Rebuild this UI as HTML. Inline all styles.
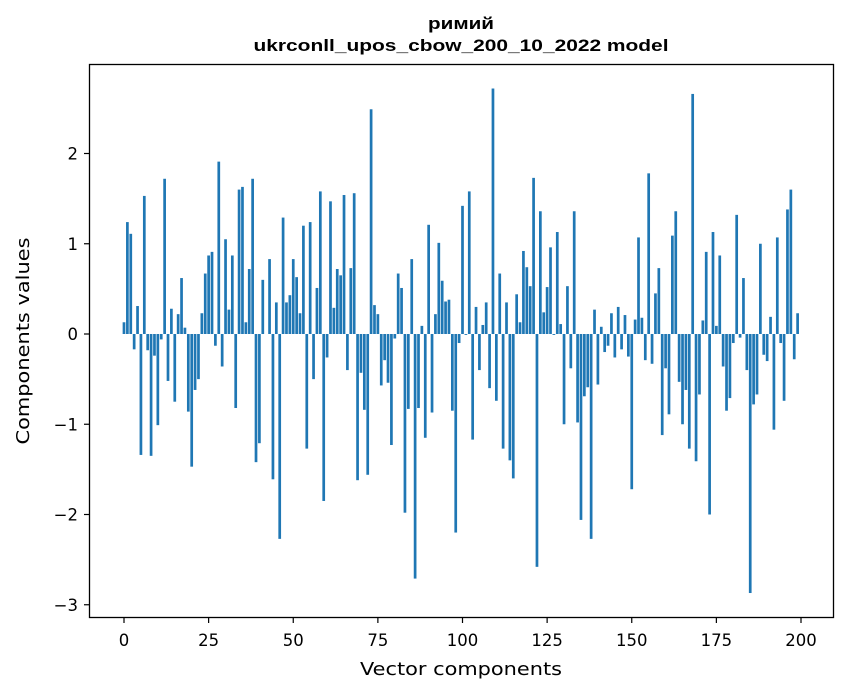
<!DOCTYPE html>
<html><head><meta charset="utf-8"><style>
html,body{margin:0;padding:0;background:#fff;}
svg{display:block;font-family:"DejaVu Sans","Liberation Sans",sans-serif;}
</style></head><body>
<svg id="chart" width="847" height="696" viewBox="0 0 847 696" xmlns="http://www.w3.org/2000/svg">
<rect width="847" height="696" fill="#fff"/>
<text x="461" y="29" text-anchor="middle" font-family="Liberation Sans, sans-serif" font-weight="bold" font-size="17" textLength="66" lengthAdjust="spacingAndGlyphs" fill="#000">римий</text>
<text x="461" y="51" text-anchor="middle" font-family="Liberation Sans, sans-serif" font-weight="bold" font-size="17" textLength="415" lengthAdjust="spacingAndGlyphs" fill="#000">ukrconll_upos_cbow_200_10_2022 model</text>
<g id="bars"></g>
<g id="xticks"></g>
<g id="yticks"></g>
<rect x="89.5" y="64.5" width="744" height="553" fill="none" stroke="#000" stroke-width="1.3"/>
<text x="461" y="675" text-anchor="middle" font-size="18" textLength="202" lengthAdjust="spacingAndGlyphs" fill="#000">Vector components</text>
<text transform="translate(29,341) rotate(-90)" text-anchor="middle" font-size="18" textLength="207" lengthAdjust="spacingAndGlyphs" fill="#000">Components values</text>
</svg>
<script>
const values = [0.13,1.24,1.11,-0.17,0.31,-1.34,1.53,-0.18,-1.35,-0.24,-1.01,-0.06,1.72,-0.52,0.28,-0.75,0.22,0.62,0.07,-0.86,
-1.47,-0.62,-0.50,0.23,0.67,0.87,0.91,-0.13,1.91,-0.36,1.05,0.27,0.87,-0.82,1.60,1.63,0.13,0.72,1.72,-1.42,
-1.21,0.60,0.0,0.83,-1.61,0.35,-2.27,1.29,0.35,0.43,0.83,0.63,0.23,1.20,-1.27,1.24,-0.50,0.51,1.58,-1.85,
-0.26,1.47,0.29,0.72,0.65,1.54,-0.40,0.73,1.56,-1.62,-0.43,-0.84,-1.56,2.49,0.32,0.22,-0.57,-0.29,-0.54,-1.23,
-0.05,0.67,0.51,-1.98,-0.83,0.83,-2.71,-0.82,0.09,-1.15,1.21,-0.87,0.22,1.01,0.59,0.36,0.38,-0.85,-2.20,-0.10,
1.42,-0.01,1.58,-1.17,0.30,-0.40,0.10,0.35,-0.60,2.72,-0.74,0.67,-1.27,0.35,-1.40,-1.60,0.44,0.13,0.92,0.74,
0.53,1.73,-2.58,1.36,0.24,0.52,0.96,-0.01,1.13,0.11,-1.00,0.53,-0.38,1.36,-0.98,-2.06,-0.69,-0.59,-2.27,0.27,
-0.56,0.08,-0.20,-0.13,0.23,-0.26,0.30,-0.17,0.21,-0.25,-1.72,0.16,1.07,0.18,-0.29,1.78,-0.33,0.45,0.73,-1.12,
-0.38,-0.89,1.09,1.36,-0.53,-1.00,-0.62,-1.27,2.66,-1.41,-0.67,0.15,0.91,-2.00,1.13,0.09,0.87,-0.36,-0.85,-0.71,
-0.10,1.32,-0.04,0.62,-0.40,-2.87,-0.78,-0.67,1.00,-0.23,-0.30,0.19,-1.06,1.07,-0.10,-0.74,1.38,1.60,-0.28,0.23];
const xTicks = [0,25,50,75,100,125,150,175,200];
const yTicks = [-3,-2,-1,0,1,2];
const yTickLabels = ["\u22123","\u22122","\u22121","0","1","2"];

const NS = "http://www.w3.org/2000/svg";
function xScale(v){ return 124 + v * 3.385; }
function yScale(v){ return 334 - v * 90.25; }

const bars = document.getElementById('bars');
values.forEach((v, i) => {
  const r = document.createElementNS(NS, 'rect');
  const x0 = xScale(i - 0.4), x1 = xScale(i + 0.4);
  const y0 = yScale(Math.max(v, 0)), y1 = yScale(Math.min(v, 0));
  r.setAttribute('x', x0);
  r.setAttribute('width', x1 - x0);
  r.setAttribute('y', y0);
  r.setAttribute('height', Math.max(y1 - y0, 0.01));
  r.setAttribute('fill', '#1f77b4');
  
  
  bars.appendChild(r);
});

const xg = document.getElementById('xticks');
xTicks.forEach(t => {
  const x = xScale(t);
  const l = document.createElementNS(NS, 'line');
  l.setAttribute('x1', x); l.setAttribute('x2', x);
  l.setAttribute('y1', 618); l.setAttribute('y2', 623);
  l.setAttribute('stroke', '#000'); l.setAttribute('stroke-width', '1.2');
  
  
  xg.appendChild(l);
  const tx = document.createElementNS(NS, 'text');
  tx.setAttribute('x', x); tx.setAttribute('y', 646);
  tx.setAttribute('text-anchor', 'middle'); tx.setAttribute('font-size', '16.5');
  tx.textContent = String(t);
  
  
  xg.appendChild(tx);
});

const yg = document.getElementById('yticks');
yTicks.forEach((t, k) => {
  const y = yScale(t);
  const l = document.createElementNS(NS, 'line');
  l.setAttribute('x1', 84); l.setAttribute('x2', 89);
  l.setAttribute('y1', y); l.setAttribute('y2', y);
  l.setAttribute('stroke', '#000'); l.setAttribute('stroke-width', '1.2');
  
  
  yg.appendChild(l);
  const tx = document.createElementNS(NS, 'text');
  tx.setAttribute('x', 78); tx.setAttribute('y', y + 6);
  tx.setAttribute('text-anchor', 'end'); tx.setAttribute('font-size', '16.5');
  tx.textContent = yTickLabels[k];
  
  
  yg.appendChild(tx);
});
</script>
</body></html>
